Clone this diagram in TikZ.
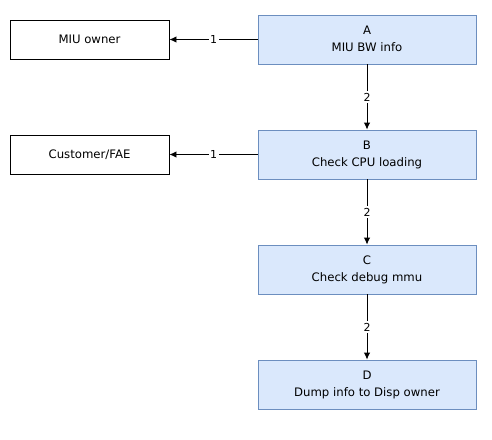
\documentclass[tikz,border=0pt]{standalone}
\usepackage{fontspec}
\setmainfont{DejaVu Sans}
\usetikzlibrary{arrows.meta}
\definecolor{bfill}{HTML}{DAE8FC}
\definecolor{bdraw}{HTML}{6C8EBF}
\tikzset{
  bluebox/.style={draw=bdraw, fill=bfill, line width=0.9pt, minimum width=218pt, minimum height=49pt, align=center, inner sep=0pt, font=\fontsize{11.7}{17}\selectfont},
  whitebox/.style={draw=black, line width=0.9pt, minimum width=159pt, minimum height=39pt, align=center, inner sep=0pt, font=\fontsize{11.7}{14}\selectfont},
  conn/.style={draw=black, line width=0.9pt, -{Latex[length=7pt,width=6.5pt]}},
  lbl/.style={fill=white, inner sep=1.5pt, font=\fontsize{11}{13}\selectfont}
}
\begin{document}
\begin{tikzpicture}[x=1pt,y=1pt]
\useasboundingbox (0,0) rectangle (492,-439);
\node[bluebox] (A) at (367,-39.5) {\raisebox{1.5pt}{A}\\\raisebox{1.5pt}{MIU BW info}};
\node[bluebox] (B) at (367,-154.5) {\raisebox{1.5pt}{B}\\\raisebox{1.5pt}{Check CPU loading}};
\node[bluebox] (C) at (367,-269.5) {\raisebox{1.5pt}{C}\\\raisebox{1.5pt}{Check debug mmu}};
\node[bluebox] (D) at (367,-384.5) {\raisebox{1.5pt}{D}\\\raisebox{1.5pt}{Dump info to Disp owner}};
\node[whitebox] (M) at (89.5,-39.5) {MIU owner};
\node[whitebox] (F) at (89.5,-154.5) {Customer/FAE};
\draw[conn] (A) -- node[lbl]{1} (M);
\draw[conn] (B) -- node[lbl]{1} (F);
\draw[conn] (A) -- node[lbl]{2} (B);
\draw[conn] (B) -- node[lbl]{2} (C);
\draw[conn] (C) -- node[lbl]{2} (D);
\end{tikzpicture}
\end{document}
